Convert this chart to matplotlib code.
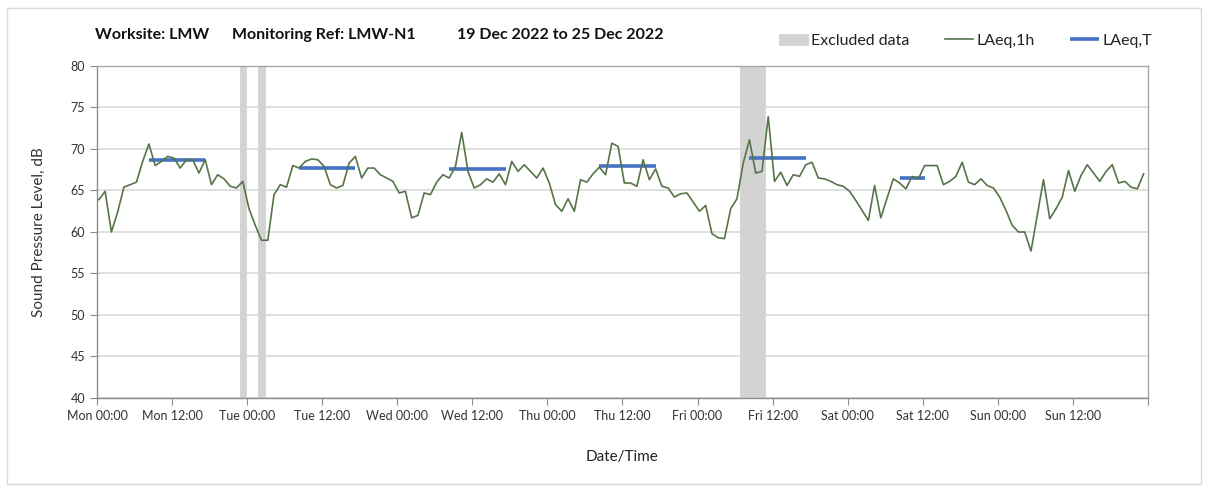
import numpy as np
import matplotlib
matplotlib.use("Agg")
import matplotlib.pyplot as plt
from matplotlib.patches import Rectangle

plt.rcParams['font.family'] = ['Lato', 'DejaVu Sans']

# hourly LAeq,1h values, one list per day (Mon 19 Dec .. Sun 25 Dec 2022)
mon = [63.9, 64.9, 60.0, 62.4, 65.4, 65.7, 66.0, 68.5, 70.6, 68.0, 68.5, 69.1,
       68.9, 67.7, 68.7, 68.7, 67.1, 68.7, 65.7, 66.9, 66.4, 65.5, 65.3, 66.1]
tue = [62.8, 60.8, 59.0, 59.0, 64.5, 65.7, 65.4, 68.0, 67.7, 68.5, 68.8, 68.7,
       67.9, 65.7, 65.3, 65.6, 68.3, 69.1, 66.5, 67.7, 67.7, 66.9, 66.5, 66.1]
wed = [64.7, 64.9, 61.7, 62.0, 64.7, 64.5, 66.0, 66.9, 66.5, 67.9, 72.0, 67.3,
       65.3, 65.7, 66.4, 66.0, 67.0, 65.7, 68.5, 67.3, 68.1, 67.3, 66.5, 67.7]
thu = [65.9, 63.3, 62.5, 64.0, 62.5, 66.3, 66.0, 67.0, 67.8, 66.9, 70.7, 70.3,
       65.9, 65.9, 65.5, 68.7, 66.3, 67.6, 65.5, 65.3, 64.2, 64.6, 64.7, 63.6]
fri = [62.5, 63.2, 59.8, 59.3, 59.2, 62.8, 64.0, 68.3, 71.1, 67.1, 67.3, 73.9,
       66.1, 67.2, 65.6, 66.9, 66.7, 68.1, 68.4, 66.5, 66.4, 66.1, 65.7, 65.5]
sat = [64.9, 63.8, 62.6, 61.4, 65.6, 61.7, 64.1, 66.4, 65.9, 65.2, 66.7, 66.4,
       68.0, 68.0, 68.0, 65.7, 66.1, 66.7, 68.4, 66.0, 65.7, 66.4, 65.6, 65.3]
sun = [64.2, 62.6, 60.8, 60.0, 60.0, 57.7, 62.0, 66.3, 61.6, 62.8, 64.2, 67.4,
       64.9, 66.8, 68.1, 67.1, 66.1, 67.3, 68.1, 65.9, 66.1, 65.4, 65.2, 67.0]
laeq_1h = np.array(mon + tue + wed + thu + fri + sat + sun)
t_hours = np.arange(len(laeq_1h)) + 0.3

# excluded hours (index from Mon 00:00)
excluded = [23, 26, 103, 104, 105, 106]

# LAeq,T daytime periods: first hour, last hour, level
laeq_t_start = [8, 32, 56, 80, 104, 128]
laeq_t_end = [17, 41, 65, 89, 113, 132]
laeq_t_level = [68.7, 67.7, 67.6, 67.9, 68.9, 66.5]

days = ["Mon", "Tue", "Wed", "Thu", "Fri", "Sat", "Sun"]
tick_pos = np.arange(0, 169, 12)
tick_lbl = [f"{days[int(p // 24)]} {int(p % 24):02d}:00" if p < 168 else "" for p in tick_pos]

fig = plt.figure(figsize=(12.08, 4.92), dpi=100)
ax = fig.add_axes([0.0803, 0.1911, 0.8700, 0.6748])

ax.bar(t_hours[excluded], 40, bottom=40, width=1.0, color='#d3d3d3',
       edgecolor='#d3d3d3', linewidth=0.6, label='Excluded data', zorder=1)
for i, (s, e, lv) in enumerate(zip(laeq_t_start, laeq_t_end, laeq_t_level)):
    ax.plot([t_hours[s], t_hours[e]], [lv, lv], color='#4472c4', lw=2.6,
            solid_capstyle='butt', label='LAeq,T' if i == 0 else None, zorder=3)
ax.plot(t_hours, laeq_1h, color='#56744a', lw=1.2, label='LAeq,1h', zorder=4)

ax.set_xlim(0, 168)
ax.set_ylim(40, 80)
ax.set_yticks(np.arange(40, 81, 5))
ax.set_xticks(tick_pos)
ax.set_xticklabels(tick_lbl)
ax.set_xticks(np.arange(0, 169, 24), minor=True)
ax.grid(axis='y', color='#d9d9d9', lw=1.2, zorder=0)
ax.grid(axis='x', which='minor', color='#d9d9d9', lw=1.2, zorder=0)
ax.grid(axis='x', which='major', visible=False)
ax.tick_params(axis='x', which='minor', length=0)
ax.tick_params(axis='both', which='major', labelsize=9, colors='#8c8c8c',
               labelcolor='#333333', length=5, direction='out')
ax.set_axisbelow(True)
for sp in ax.spines.values():
    sp.set_color('#a6a6a6')
    sp.set_linewidth(1.0)
ax.spines['left'].set_color('#8c8c8c')
ax.spines['bottom'].set_color('#8c8c8c')

ax.set_ylabel('Sound Pressure Level, dB', fontsize=11, color='#333333', labelpad=18)
ax.set_xlabel('Date/Time', fontsize=11, color='#222222', labelpad=20)

title_parts = ['Worksite: LMW', 'Monitoring Ref: LMW-N1', '19 Dec 2022 to 25 Dec 2022']
title_x = [95, 232, 457]
for txt, px in zip(title_parts, title_x):
    fig.text(px / 1208, 1 - 35 / 492, txt, fontsize=11.5, fontweight='bold',
             va='center', ha='left', color='#111111')

h, l = ax.get_legend_handles_labels()
order = [l.index('Excluded data'), l.index('LAeq,1h'), l.index('LAeq,T')]
fig.legend([h[i] for i in order], [l[i] for i in order], ncol=3, frameon=False,
           loc='center right', bbox_to_anchor=(1166 / 1208, 1 - 41 / 492),
           fontsize=11.5, handlelength=1.8, handletextpad=0.2, columnspacing=2.2,
           labelcolor='#222222')

fig.patches.append(Rectangle((0.006, 0.016), 0.988, 0.968, transform=fig.transFigure,
                             fill=False, edgecolor='#d9d9d9', lw=1.0))

fig.savefig('out.png', dpi=100)
